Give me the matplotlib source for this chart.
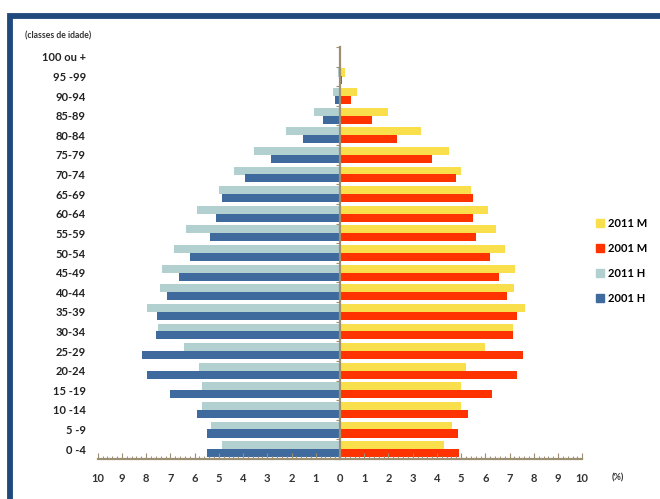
import matplotlib
matplotlib.use("Agg")
import matplotlib.pyplot as plt
from matplotlib.patches import Rectangle, Patch
from matplotlib.ticker import MultipleLocator, FixedLocator, FuncFormatter
import numpy as np

plt.rcParams['font.family'] = ['Lato', 'DejaVu Sans']

categories = ["0 -4", "5 -9", "10 -14", "15 -19", "20-24", "25-29", "30-34", "35-39",
              "40-44", "45-49", "50-54", "55-59", "60-64", "65-69", "70-74", "75-79",
              "80-84", "85-89", "90-94", "95 -99", "100 ou +"]

h2011 = [4.88, 5.31, 5.71, 5.71, 5.81, 6.43, 7.50, 7.95, 7.42, 7.33, 6.85, 6.37, 5.90,
         5.01, 4.36, 3.56, 2.22, 1.08, 0.30, 0.08, 0.01]
h2001 = [5.49, 5.49, 5.90, 7.03, 7.98, 8.17, 7.58, 7.57, 7.14, 6.64, 6.19, 5.36, 5.12,
         4.88, 3.92, 2.86, 1.52, 0.71, 0.20, 0.04, 0.01]
m2011 = [4.29, 4.64, 4.99, 5.01, 5.22, 5.99, 7.15, 7.64, 7.20, 7.23, 6.82, 6.43, 6.09,
         5.40, 5.00, 4.50, 3.35, 1.97, 0.69, 0.19, 0.02]
m2001 = [4.91, 4.89, 5.28, 6.28, 7.29, 7.55, 7.12, 7.30, 6.91, 6.57, 6.20, 5.63, 5.48,
         5.48, 4.79, 3.80, 2.34, 1.34, 0.47, 0.08, 0.01]

xticks = list(range(-10, 11))

c_m2011 = "#FADF4C"
c_m2001 = "#FF3300"
c_h2011 = "#B2D0D0"
c_h2001 = "#3E6A9E"
axis_col = "#9C8F72"

fig = plt.figure(figsize=(6.6, 4.99), dpi=100)
ax = fig.add_axes([97.7 / 660, 40 / 499, (582.3 - 97.7) / 660, 412 / 499])

y = np.arange(len(categories))
bh = 0.41
ax.barh(y + 0.2, [-v for v in h2011], height=bh, color=c_h2011, label="2011 H")
ax.barh(y - 0.2, [-v for v in h2001], height=bh, color=c_h2001, label="2001 H")
ax.barh(y + 0.2, m2011, height=bh, color=c_m2011, label="2011 M")
ax.barh(y - 0.2, m2001, height=bh, color=c_m2001, label="2001 M")

ax.set_xlim(-10, 10)
ax.set_ylim(-0.5, len(categories) - 0.5)

for s in ['top', 'right']:
    ax.spines[s].set_visible(False)
ax.spines['left'].set_position(('data', 0))
ax.spines['left'].set_color(axis_col)
ax.spines['left'].set_linewidth(1.6)
ax.spines['bottom'].set_color(axis_col)
ax.spines['bottom'].set_linewidth(1.6)
ax.spines['left'].set_zorder(5)

ax.set_xticks(xticks)
ax.xaxis.set_major_formatter(FuncFormatter(lambda v, p: f"{abs(int(round(v)))}"))
ax.xaxis.set_minor_locator(MultipleLocator(0.2))
ax.tick_params(axis='x', which='major', direction='in', length=4, width=0.8,
               color=axis_col, labelsize=8, pad=10, labelcolor="#333333")
ax.tick_params(axis='x', which='minor', direction='in', length=2, width=0.7, color=axis_col)
for t in ax.get_xticklabels():
    t.set_fontweight('bold')

ax.set_yticks(y)
ax.set_yticklabels(categories)
ax.yaxis.set_minor_locator(FixedLocator(np.arange(-0.5, len(categories), 1.0)))
ax.tick_params(axis='y', which='major', length=0, labelsize=8, pad=183, labelcolor="#222222")
ax.tick_params(axis='y', which='minor', direction='out', length=3, width=0.8, color=axis_col)
for t in ax.get_yticklabels():
    t.set_fontweight('bold')

fig.text(25 / 660, 1 - 36 / 499, "(classes de idade)", fontsize=6.2, fontweight='bold',
         color="#333333", va='center', ha='left')
fig.text(612 / 660, 1 - 478 / 499, "(%)", fontsize=6.5, fontweight='bold',
         color="#333333", va='center', ha='left')

handles = [Patch(color=c_m2011), Patch(color=c_m2001), Patch(color=c_h2011), Patch(color=c_h2001)]
labels = ["2011 M", "2001 M", "2011 H", "2001 H"]
fig.legend(handles, labels, loc='upper left', bbox_to_anchor=(596 / 660, 1 - 218 / 499),
           frameon=False, fontsize=8, handlelength=0.75, handleheight=0.75,
           handletextpad=0.3, labelspacing=1.25, borderpad=0, borderaxespad=0,
           prop={'weight': 'bold', 'size': 8})

# frame border
fig.patches.append(Rectangle((9.5 / 660, -0.2), 1.5, 1 - 15.5 / 499 + 0.2,
                             transform=fig.transFigure, fill=False,
                             edgecolor="#1F497D", linewidth=4.2, zorder=0))

fig.savefig("out.png", dpi=100)
